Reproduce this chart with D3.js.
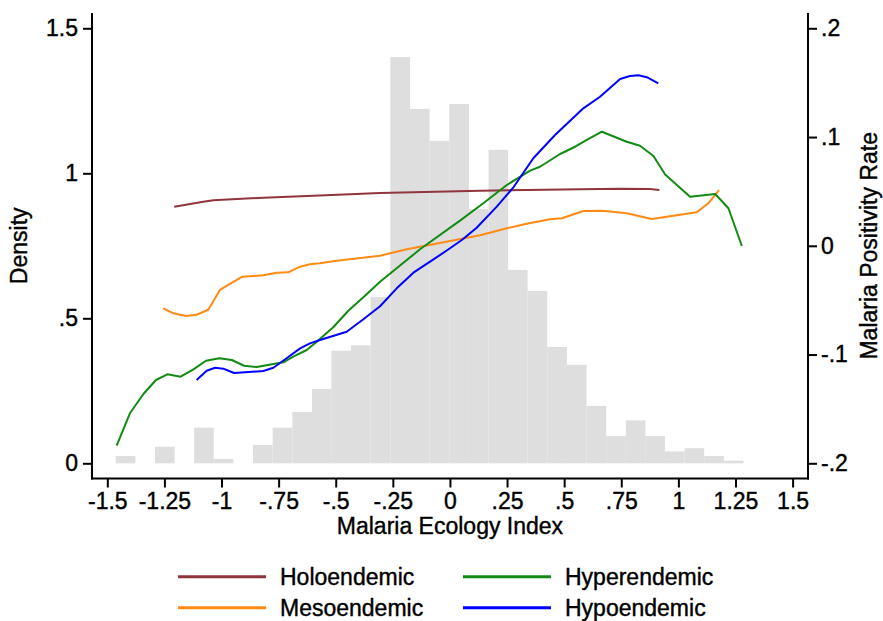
<!DOCTYPE html>
<html lang="en">
<head>
    <meta charset="UTF-8">
    <script src="https://d3js.org/d3.v7.min.js"></script>
    <style>
        body { margin: 0; background: #fff; font-family: "Liberation Sans", Arial, sans-serif; }
        svg text { font-family: "Liberation Sans", Arial, sans-serif; font-size: 23px; fill: #000;
                   stroke: #000; stroke-width: 0.4px; }
        .axis line { stroke: #000; stroke-width: 2px; }
        .series { fill: none; stroke-width: 2px; stroke-linejoin: round; }
    </style>
</head>
<body>
    <svg id="chart" width="883" height="621"></svg>

    <script>
        // histogram of the ecology index (left axis, density)
        const binLeft = [-1.463, -1.377, -1.291, -1.205, -1.120, -1.034, -0.948, -0.862,
                         -0.776, -0.690, -0.604, -0.519, -0.433, -0.347, -0.261, -0.175,
                         -0.089, -0.003, 0.083, 0.169, 0.254, 0.340, 0.426, 0.512,
                         0.598, 0.684, 0.770, 0.855, 0.941, 1.027, 1.113, 1.199];
        const binWidth = 0.0859;
        const density = [0.025, 0, 0.057, 0, 0.123, 0.015, 0, 0.063,
                         0.123, 0.177, 0.256, 0.388, 0.407, 0.574, 1.401, 1.222,
                         1.112, 1.239, 0.877, 1.081, 0.667, 0.594, 0.401, 0.340,
                         0.198, 0.094, 0.148, 0.094, 0.041, 0.052, 0.025, 0.009];

        // positivity rate by endemicity (right axis)
        const holoX = [-1.207, -1.08, -1.036, -0.817, -0.598, -0.306, 0.132, 0.570, 0.745, 0.876, 0.917];
        const holoY = [0.036, 0.0406, 0.0418, 0.0442, 0.0461, 0.0486, 0.0507, 0.052, 0.0525, 0.0522, 0.0513];

        const mesoX = [-1.255, -1.211, -1.155, -1.109, -1.058, -1.007, -0.963, -0.909, -0.817, -0.758,
                       -0.708, -0.656, -0.613, -0.569, -0.496, -0.306, -0.189, -0.073, 0.132, 0.249,
                       0.336, 0.438, 0.490, 0.584, 0.665, 0.774, 0.884, 0.949, 1.081, 1.131, 1.178];
        const mesoY = [-0.0575, -0.0621, -0.0646, -0.0634, -0.0588, -0.0406, -0.0351, -0.0284, -0.0271, -0.0247,
                       -0.0244, -0.0192, -0.017, -0.0161, -0.0137, -0.0091, -0.0032, 0.0014, 0.0097, 0.0161,
                       0.0203, 0.0244, 0.0253, 0.032, 0.0323, 0.0299, 0.0246, 0.0268, 0.0308, 0.0391, 0.0513];

        const hyperX = [-1.459, -1.401, -1.342, -1.287, -1.237, -1.179, -1.123, -1.068, -1.010, -0.955,
                        -0.901, -0.846, -0.773, -0.729, -0.686, -0.627, -0.583, -0.511, -0.445, -0.379,
                        -0.306, -0.131, 0.044, 0.146, 0.249, 0.351, 0.394, 0.482, 0.548, 0.599,
                        0.665, 0.774, 0.832, 0.891, 0.942, 1.051, 1.161, 1.219, 1.278];
        const hyperY = [-0.1838, -0.154, -0.1363, -0.1234, -0.1182, -0.1204, -0.1136, -0.1057, -0.1034, -0.105,
                        -0.1103, -0.1114, -0.1087, -0.1071, -0.102, -0.0958, -0.0882, -0.0749, -0.0597, -0.0474,
                        -0.033, -0.0032, 0.0231, 0.0391, 0.0559, 0.0691, 0.0727, 0.0844, 0.0911, 0.0973,
                        0.1049, 0.0957, 0.092, 0.0826, 0.0656, 0.0451, 0.0476, 0.0345, -0.0002];

        const hypoX = [-1.109, -1.065, -1.028, -0.992, -0.945, -0.817, -0.773, -0.715, -0.656, -0.613,
                       -0.569, -0.452, -0.379, -0.306, -0.233, -0.160, -0.087, -0.014, 0.052, 0.117,
                       0.205, 0.278, 0.365, 0.460, 0.511, 0.584, 0.657, 0.745, 0.788, 0.825, 0.862, 0.912];
        const hypoY = [-0.1234, -0.1149, -0.1121, -0.113, -0.117, -0.1151, -0.1121, -0.1034, -0.0943, -0.0897,
                       -0.0866, -0.079, -0.0676, -0.0556, -0.0391, -0.0247, -0.0146, -0.0043, 0.0053, 0.0166,
                       0.036, 0.0538, 0.0805, 0.1019, 0.112, 0.1264, 0.1371, 0.1534, 0.1561, 0.1568, 0.155, 0.1494];

        const xTicks = [-1.5, -1.25, -1, -0.75, -0.5, -0.25, 0, 0.25, 0.5, 0.75, 1, 1.25, 1.5];
        const leftTicks = [0, 0.5, 1, 1.5];
        const rightTicks = [-0.2, -0.1, 0, 0.1, 0.2];

        const series = [
            { name: "Holoendemic", xs: holoX, ys: holoY, color: "#90353b" },
            { name: "Mesoendemic", xs: mesoX, ys: mesoY, color: "#ff8a14" },
            { name: "Hyperendemic", xs: hyperX, ys: hyperY, color: "#138a13" },
            { name: "Hypoendemic", xs: hypoX, ys: hypoY, color: "#0000ff" }
        ];

        // strip the leading zero like Stata does: .5, -.25
        const fmt = v => String(+v.toFixed(2)).replace(/^(-?)0\./, "$1.");

        const svg = d3.select("#chart");
        const plot = { left: 92, right: 808, top: 13, bottom: 478.5 };

        const x = d3.scaleLinear().domain([-1.5, 1.5]).range([107.3, 792.6]);
        const yL = d3.scaleLinear().domain([0, 1.5]).range([463.3, 28.3]);
        const yR = d3.scaleLinear().domain([-0.2, 0.2]).range([463.3, 28.3]);

        // histogram
        svg.append("g").selectAll("rect")
            .data(density.map((d, i) => ({ x0: binLeft[i], d })).filter(b => b.d > 0))
            .enter().append("rect")
            .attr("x", b => x(b.x0))
            .attr("width", b => x(b.x0 + binWidth) - x(b.x0))
            .attr("y", b => yL(b.d))
            .attr("height", b => yL(0) - yL(b.d))
            .attr("fill", "#dedede");

        // lines
        const line = d3.line().x(p => x(p[0])).y(p => yR(p[1]));
        svg.append("g").selectAll("path")
            .data(series)
            .enter().append("path")
            .attr("class", "series")
            .attr("stroke", s => s.color)
            .attr("d", s => line(s.xs.map((v, i) => [v, s.ys[i]])));

        // axes
        const gl = svg.append("g").attr("class", "axis").attr("transform", `translate(${plot.left},0)`)
            .call(d3.axisLeft(yL).tickValues(leftTicks).tickFormat(fmt).tickSize(9).tickPadding(5));
        const gr = svg.append("g").attr("class", "axis").attr("transform", `translate(${plot.right},0)`)
            .call(d3.axisRight(yR).tickValues(rightTicks).tickFormat(fmt).tickSize(9).tickPadding(4));
        const gb = svg.append("g").attr("class", "axis").attr("transform", `translate(0,${plot.bottom})`)
            .call(d3.axisBottom(x).tickValues(xTicks).tickFormat(fmt).tickSize(9).tickPadding(5));
        [gl, gr, gb].forEach(g => {
            g.select(".domain").remove();
            g.selectAll("text").attr("font-size", null).attr("font-family", null).attr("fill", "#000");
        });

        svg.append("g").attr("class", "axis").selectAll("line")
            .data([
                [plot.left, plot.top, plot.left, plot.bottom + 1],
                [plot.right, plot.top, plot.right, plot.bottom + 1],
                [plot.left - 1, plot.bottom, plot.right + 1, plot.bottom]
            ])
            .enter().append("line")
            .attr("x1", d => d[0]).attr("y1", d => d[1])
            .attr("x2", d => d[2]).attr("y2", d => d[3]);

        // titles
        svg.append("text").attr("x", (x(-1.5) + x(1.5)) / 2).attr("y", 534)
            .attr("text-anchor", "middle").text("Malaria Ecology Index");
        svg.append("text").attr("transform", `translate(27,${yL(0.75)}) rotate(-90)`)
            .attr("text-anchor", "middle").text("Density");
        svg.append("text").attr("transform", `translate(877,${yL(0.75)}) rotate(-90)`)
            .attr("text-anchor", "middle").text("Malaria Positivity Rate");

        // legend, two columns
        const legend = svg.append("g").selectAll("g")
            .data(series)
            .enter().append("g")
            .attr("transform", (s, i) => `translate(${i < 2 ? 178 : 463},${i % 2 === 0 ? 576.7 : 607.7})`);
        legend.append("line")
            .attr("x1", 0).attr("x2", 88).attr("y1", 0).attr("y2", 0)
            .attr("stroke", s => s.color).attr("stroke-width", 3);
        legend.append("text").attr("x", 102).attr("y", 8.5).text(s => s.name);
    </script>
</body>
</html>
